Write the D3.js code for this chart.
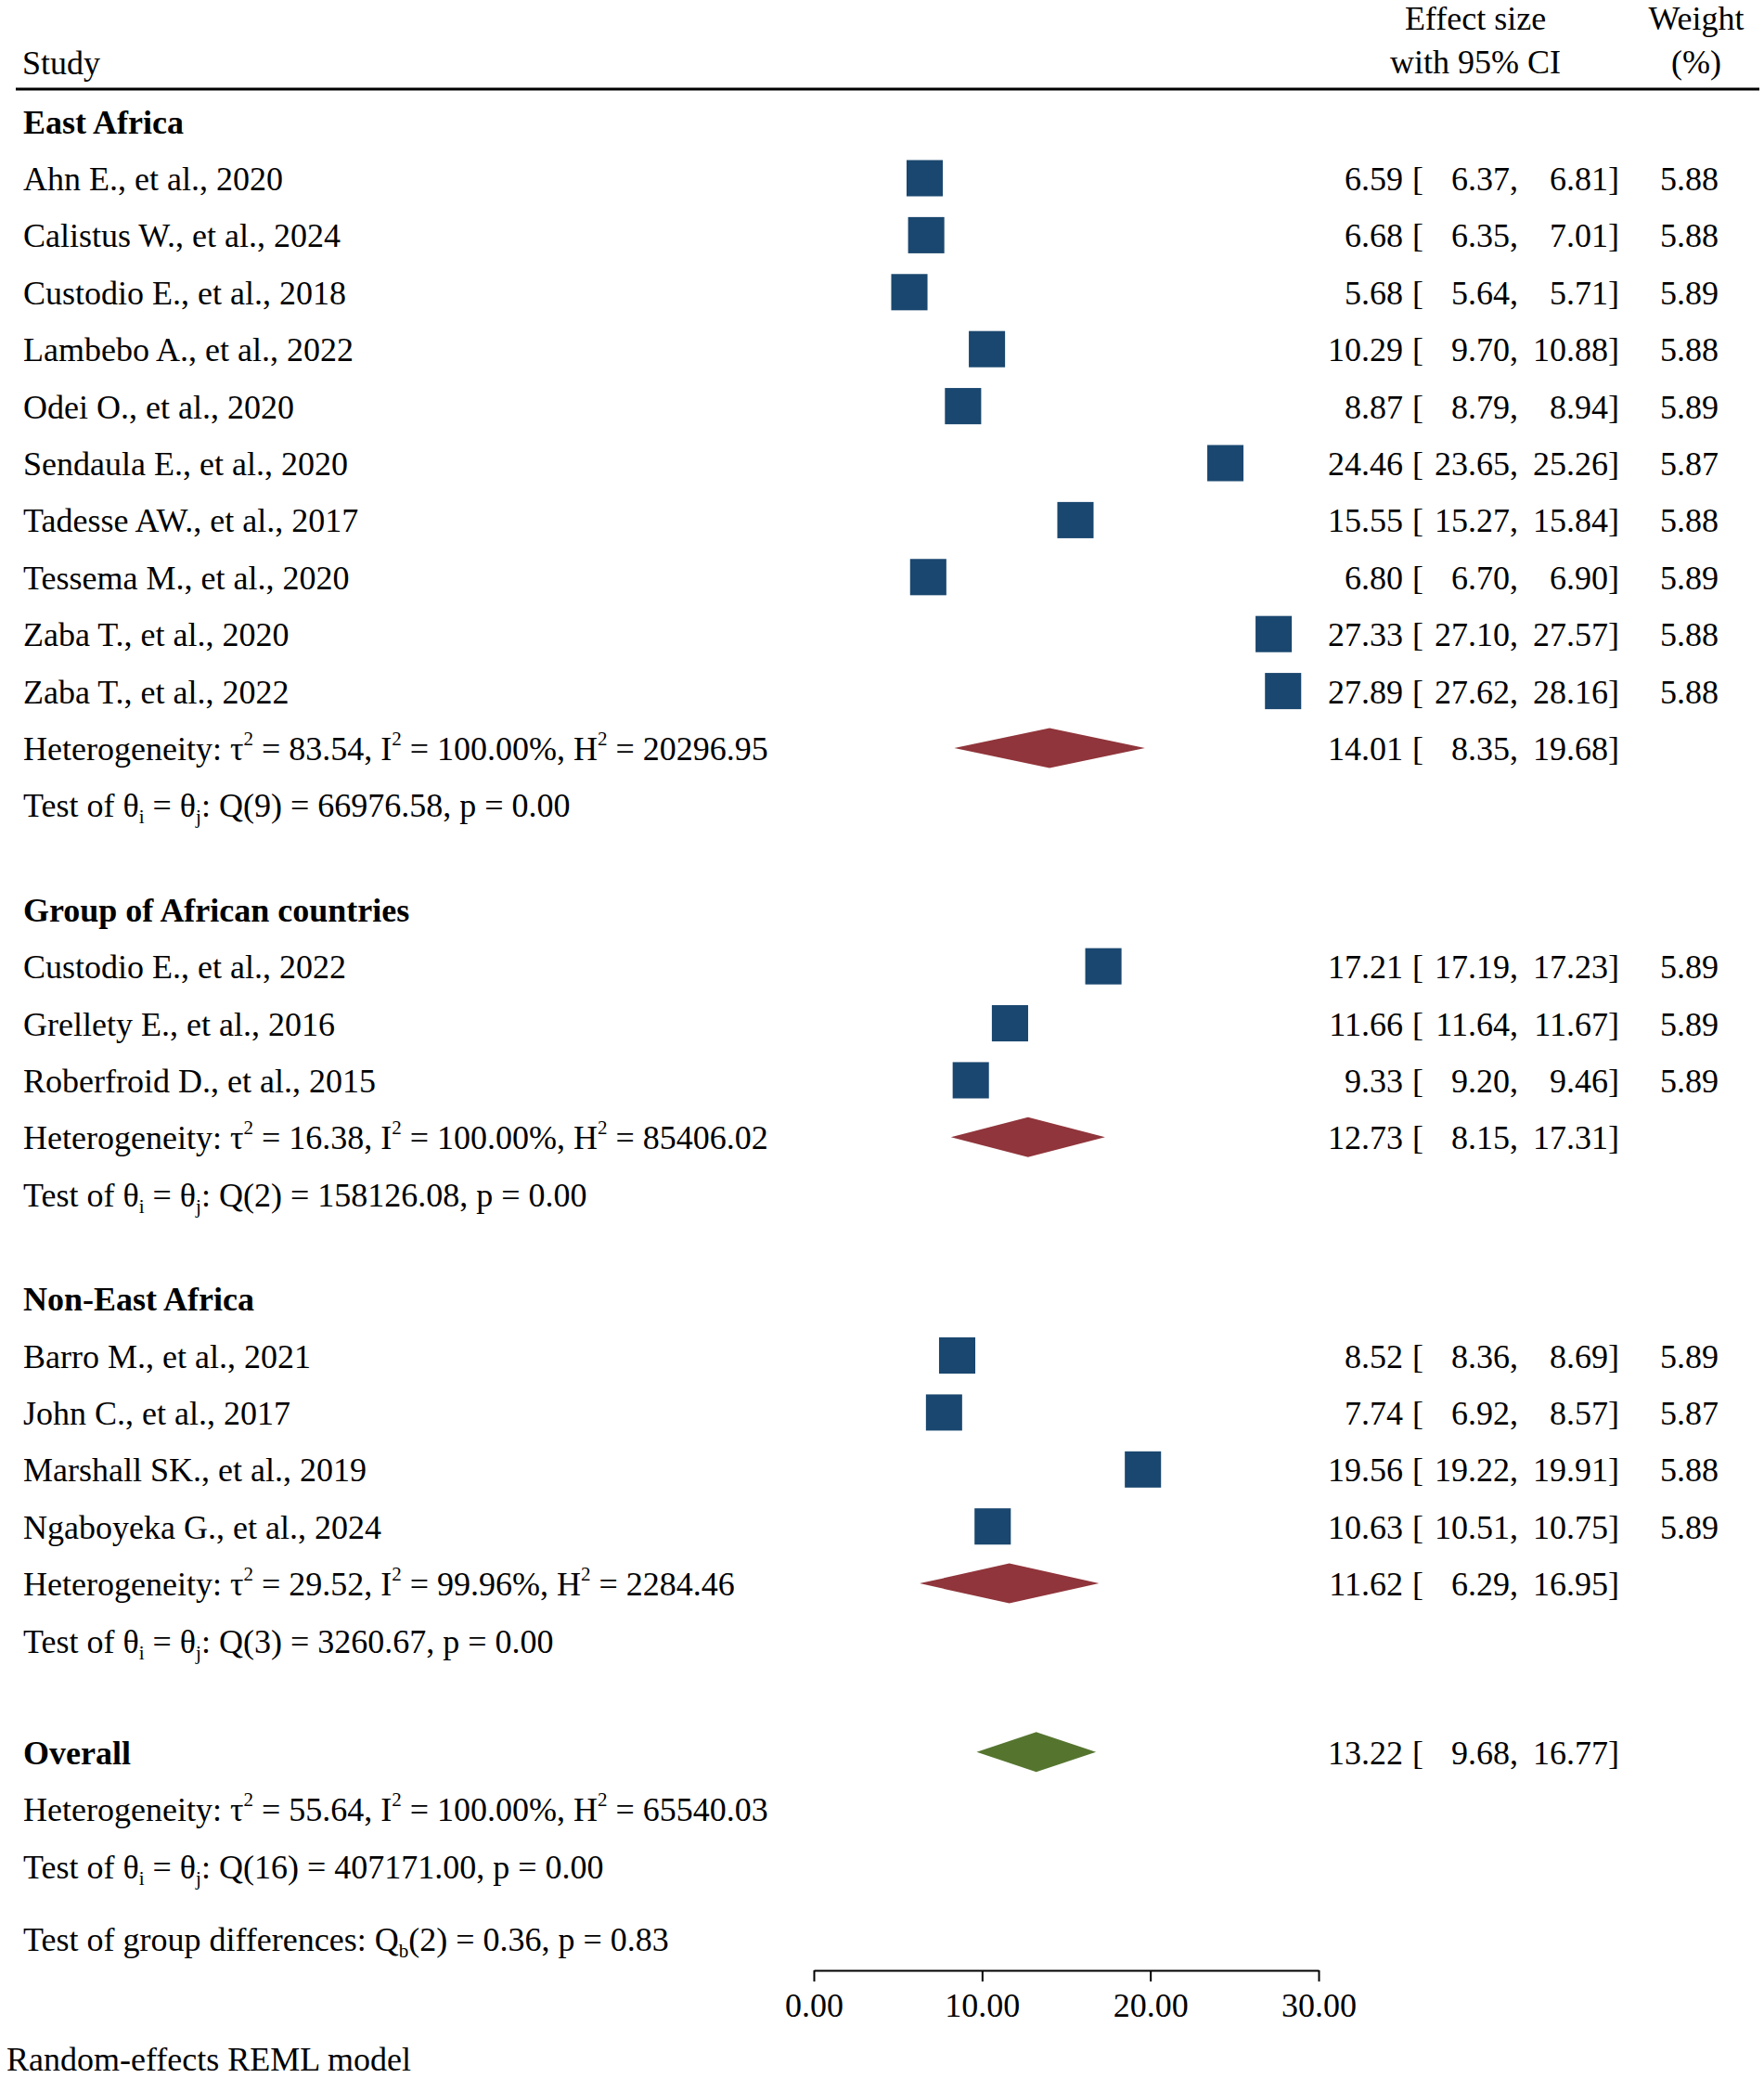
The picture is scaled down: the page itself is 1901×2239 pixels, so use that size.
<!DOCTYPE html>
<html>
<head>
<meta charset="utf-8">
<script src="https://cdn.jsdelivr.net/npm/d3@7"></script>
<style>
body { margin: 0; background: #fff; }
text { font-family: "Liberation Serif", "Times New Roman", serif; font-size: 36px; fill: #000; }
</style>
</head>
<body>
<div id="forest"></div>
<script>

// subgroup names
var groupNames = ["East Africa", "Group of African countries", "Non-East Africa"];

// East Africa studies
var eastStudies = ["Ahn E., et al., 2020", "Calistus W., et al., 2024", "Custodio E., et al., 2018",
  "Lambebo A., et al., 2022", "Odei O., et al., 2020", "Sendaula E., et al., 2020",
  "Tadesse AW., et al., 2017", "Tessema M., et al., 2020", "Zaba T., et al., 2020", "Zaba T., et al., 2022"];
var eastES = [6.59, 6.68, 5.68, 10.29, 8.87, 24.46, 15.55, 6.80, 27.33, 27.89];
var eastLo = [6.37, 6.35, 5.64, 9.70, 8.79, 23.65, 15.27, 6.70, 27.10, 27.62];
var eastHi = [6.81, 7.01, 5.71, 10.88, 8.94, 25.26, 15.84, 6.90, 27.57, 28.16];
var eastWt = [5.88, 5.88, 5.89, 5.88, 5.89, 5.87, 5.88, 5.89, 5.88, 5.88];

// group of African countries
var multiStudies = ["Custodio E., et al., 2022", "Grellety E., et al., 2016", "Roberfroid D., et al., 2015"];
var multiES = [17.21, 11.66, 9.33];
var multiLo = [17.19, 11.64, 9.20];
var multiHi = [17.23, 11.67, 9.46];
var multiWt = [5.89, 5.89, 5.89];

// Non-East Africa
var nonEastStudies = ["Barro M., et al., 2021", "John C., et al., 2017", "Marshall SK., et al., 2019", "Ngaboyeka G., et al., 2024"];
var nonEastES = [8.52, 7.74, 19.56, 10.63];
var nonEastLo = [8.36, 6.92, 19.22, 10.51];
var nonEastHi = [8.69, 8.57, 19.91, 10.75];
var nonEastWt = [5.89, 5.87, 5.88, 5.89];

// subgroup summaries
var groupES = [14.01, 12.73, 11.62];
var groupLo = [8.35, 8.15, 6.29];
var groupHi = [19.68, 17.31, 16.95];
var groupTau2 = ["83.54", "16.38", "29.52"];
var groupI2 = ["100.00", "100.00", "99.96"];
var groupH2 = ["20296.95", "85406.02", "2284.46"];
var groupQdf = [9, 2, 3];
var groupQ = ["66976.58", "158126.08", "3260.67"];
var groupP = ["0.00", "0.00", "0.00"];

// overall
var overallES = 13.22, overallLo = 9.68, overallHi = 16.77;
var overallTau2 = "55.64", overallI2 = "100.00", overallH2 = "65540.03";
var overallQdf = 16, overallQ = "407171.00", overallP = "0.00";
var qbDf = 2, qbValue = "0.36", qbP = "0.83";

var xTicks = [0, 10, 20, 30];

var width = 1901, height = 2239;
var fmt = d3.format(".2f");

var svg = d3.select("#forest")
  .append("svg")
    .attr("width", width)
    .attr("height", height);

svg.append("rect").attr("width", width).attr("height", height).attr("fill", "#fff");

// x scale for effect sizes
var x = d3.scaleLinear().domain([0, 30]).range([877, 1421]);
// row position -> text baseline
var y = d3.scaleLinear().domain([0, 1]).range([143.6, 205]);

// build the rows
var groups = [
  {studies: eastStudies, es: eastES, lo: eastLo, hi: eastHi, w: eastWt},
  {studies: multiStudies, es: multiES, lo: multiLo, hi: multiHi, w: multiWt},
  {studies: nonEastStudies, es: nonEastES, lo: nonEastLo, hi: nonEastHi, w: nonEastWt}
];
var rows = [], pos = 0;
groups.forEach(function(g, gi) {
  if (gi > 0) pos += 1.83;
  rows.push({type: "head", label: groupNames[gi], pos: pos});
  g.studies.forEach(function(s, i) {
    pos += 1;
    rows.push({type: "study", label: s, es: g.es[i], lo: g.lo[i], hi: g.hi[i], w: g.w[i], pos: pos});
  });
  pos += 1;
  rows.push({type: "het", tau2: groupTau2[gi], i2: groupI2[gi], h2: groupH2[gi],
    es: groupES[gi], lo: groupLo[gi], hi: groupHi[gi], color: "#90353b", pos: pos});
  pos += 1;
  rows.push({type: "test", df: groupQdf[gi], q: groupQ[gi], p: groupP[gi], pos: pos});
});
pos += 1.96;
rows.push({type: "head", label: "Overall", es: overallES, lo: overallLo, hi: overallHi, color: "#55752f", pos: pos});
pos += 1;
rows.push({type: "het", tau2: overallTau2, i2: overallI2, h2: overallH2, pos: pos});
pos += 1;
rows.push({type: "test", df: overallQdf, q: overallQ, p: overallP, pos: pos});
pos += 1.28;
rows.push({type: "qb", pos: pos});

// text with super/subscripts
function richText(sel, parts) {
  var shift = 0;
  parts.forEach(function(p) {
    var off = p.sup ? -16 : (p.sub ? 7 : 0);
    var t = sel.append("tspan").attr("dy", off - shift).text(p.t);
    if (p.sup || p.sub) t.style("font-size", "21px");
    shift = off;
  });
}

// header
svg.append("text").attr("x", 24).attr("y", 80).text("Study");
svg.append("text").attr("x", 1590).attr("y", 32).attr("text-anchor", "middle").text("Effect size");
svg.append("text").attr("x", 1590).attr("y", 79).attr("text-anchor", "middle").text("with 95% CI");
svg.append("text").attr("x", 1828).attr("y", 32).attr("text-anchor", "middle").text("Weight");
svg.append("text").attr("x", 1828).attr("y", 79).attr("text-anchor", "middle").text("(%)");
svg.append("line").attr("x1", 17).attr("x2", 1896).attr("y1", 96).attr("y2", 96)
  .attr("stroke", "#000").attr("stroke-width", 3);

// left column labels
rows.forEach(function(r) {
  var t = svg.append("text").attr("x", 25).attr("y", y(r.pos));
  if (r.type == "head") {
    t.attr("font-weight", "bold").text(r.label);
  } else if (r.type == "study") {
    t.text(r.label);
  } else if (r.type == "het") {
    richText(t, [{t: "Heterogeneity: τ"}, {t: "2", sup: true}, {t: " = " + r.tau2 + ", I"}, {t: "2", sup: true},
      {t: " = " + r.i2 + "%, H"}, {t: "2", sup: true}, {t: " = " + r.h2}]);
  } else if (r.type == "test") {
    richText(t, [{t: "Test of θ"}, {t: "i", sub: true}, {t: " = θ"}, {t: "j", sub: true},
      {t: ": Q(" + r.df + ") = " + r.q + ", p = " + r.p}]);
  } else if (r.type == "qb") {
    richText(t, [{t: "Test of group differences: Q"}, {t: "b", sub: true}, {t: "(" + qbDf + ") = " + qbValue + ", p = " + qbP}]);
  }
});

// effect size columns
var esRows = rows.filter(function(r) { return r.es !== undefined; });
esRows.forEach(function(r) {
  var by = y(r.pos);
  svg.append("text").attr("x", 1512).attr("y", by).attr("text-anchor", "end").text(fmt(r.es));
  svg.append("text").attr("x", 1522).attr("y", by).text("[");
  svg.append("text").attr("x", 1636).attr("y", by).attr("text-anchor", "end").text(fmt(r.lo) + ",");
  svg.append("text").attr("x", 1745).attr("y", by).attr("text-anchor", "end").text(fmt(r.hi) + "]");
  if (r.w !== undefined)
    svg.append("text").attr("x", 1852).attr("y", by).attr("text-anchor", "end").text(fmt(r.w));
});

var studyRows = rows.filter(function(r) { return r.type == "study"; });

// CI lines
svg.selectAll(".ci")
  .data(studyRows)
  .enter()
  .append("line")
    .attr("class", "ci")
    .attr("x1", function(d) { return x(d.lo); })
    .attr("x2", function(d) { return x(d.hi); })
    .attr("y1", function(d) { return y(d.pos) - 13; })
    .attr("y2", function(d) { return y(d.pos) - 13; })
    .attr("stroke", "#1a476f")
    .attr("stroke-width", 2);

// weight squares
var side = function(d) { return Math.sqrt(d.w) * 16.1; };
svg.selectAll(".sq")
  .data(studyRows)
  .enter()
  .append("rect")
    .attr("class", "sq")
    .attr("x", function(d) { return x(d.es) - side(d) / 2; })
    .attr("y", function(d) { return y(d.pos) - 13 - side(d) / 2; })
    .attr("width", side)
    .attr("height", side)
    .attr("fill", "#1a476f");

// pooled diamonds
var diamRows = rows.filter(function(r) { return r.color !== undefined; });
svg.selectAll(".diam")
  .data(diamRows)
  .enter()
  .append("path")
    .attr("class", "diam")
    .attr("d", function(d) {
      var cy = y(d.pos) - 13;
      return "M" + x(d.lo) + "," + cy + "L" + x(d.es) + "," + (cy - 21.5) +
        "L" + x(d.hi) + "," + cy + "L" + x(d.es) + "," + (cy + 21.5) + "Z";
    })
    .attr("fill", function(d) { return d.color; });

// x axis
var axis = svg.append("g")
  .attr("transform", "translate(0,2123)")
  .call(d3.axisBottom(x).tickValues(xTicks).tickFormat(fmt).tickSize(12).tickSizeOuter(0).tickPadding(12));
axis.selectAll("path, line").attr("stroke", "#000").attr("stroke-width", 2);
axis.selectAll("text")
  .style("font-family", "'Liberation Serif', 'Times New Roman', serif")
  .style("font-size", "36px")
  .attr("fill", "#000");

svg.append("text").attr("x", 7).attr("y", 2231).text("Random-effects REML model");

</script>
</body>
</html>
